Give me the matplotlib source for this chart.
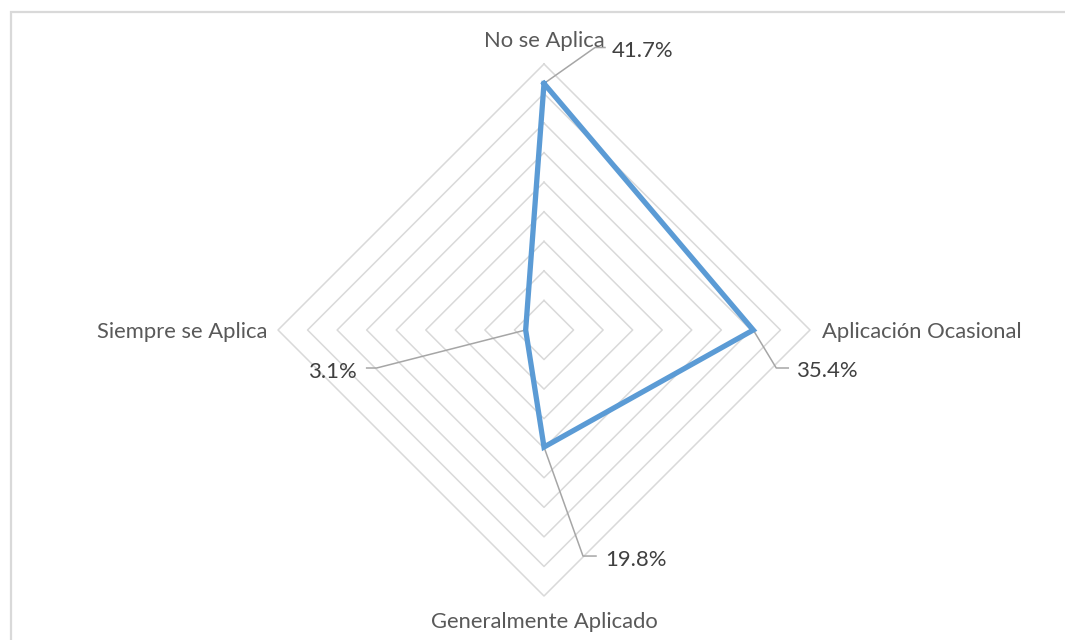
import numpy as np
import matplotlib
matplotlib.use("Agg")
import matplotlib.pyplot as plt
from matplotlib.lines import Line2D

# Survey results, clockwise from the top
categories = ["No se Aplica", "Aplicación Ocasional", "Generalmente Aplicado", "Siempre se Aplica"]
values = [41.7, 35.4, 19.8, 3.1]
value_labels = ["41.7%", "35.4%", "19.8%", "3.1%"]
ring_levels = [5, 10, 15, 20, 25, 30, 35, 40, 45]

W, H, DPI = 1065, 640, 100
CX, CY = 544, 330          # chart centre in pixels (from top-left)
R_PX = 266                 # pixel radius of the outer ring
R_MAX = ring_levels[-1]
S = R_MAX / R_PX           # data units per pixel

plt.rcParams["font.family"] = ["Lato", "DejaVu Sans"]

fig = plt.figure(figsize=(W / DPI, H / DPI), dpi=DPI)
ax = fig.add_axes([0, 0, 1, 1])
ax.set_xlim(-CX * S, (W - CX) * S)
ax.set_ylim(-(H - CY) * S, CY * S)
ax.set_aspect("equal")
ax.axis("off")

n = len(categories)
theta = np.arange(n) * 2 * np.pi / n   # 0 = up, clockwise


def to_xy(r, th):
    return r * np.sin(th), r * np.cos(th)


# chart area border: only the top and left edges fall inside the image
bx, by = 10.5 / W, 1 - 11.5 / H
fig.add_artist(Line2D([bx, bx, 1.01], [-0.01, by, by], transform=fig.transFigure,
                      color="#D9D9D9", lw=1.6, solid_joinstyle="miter"))

# diamond grid rings
grid_c = "#D9D9D9"
for lv in ring_levels:
    xs, ys = to_xy(np.array([lv] * (n + 1)), np.append(theta, theta[0]))
    ax.plot(xs, ys, color=grid_c, lw=1.1, zorder=1)

# data series
vals = np.array(values)
xs, ys = to_xy(np.append(vals, vals[0]), np.append(theta, theta[0]))
ax.plot(xs, ys, color="#5B9BD5", lw=3.8, solid_joinstyle="miter", zorder=3)

# value labels with bent leader lines (offsets in pixels: elbow, end, text)
leader = [
    ((51, 36), (61, 36), (68, 27), "left"),
    ((23, -38), (35, -38), (44, -47), "left"),
    ((39, -109), (52, -109), (61, -119), "left"),
    ((-149, -38), (-159, -38), (-168, -48), "right"),
]
for v, th, lab, (elb, end, txt, ha) in zip(values, theta, value_labels, leader):
    vx, vy = to_xy(v, th)
    ax.plot([vx, vx + elb[0] * S, vx + end[0] * S],
            [vy, vy + elb[1] * S, vy + end[1] * S],
            color="#A6A6A6", lw=1.1, zorder=2)
    ax.text(vx + txt[0] * S, vy + txt[1] * S, lab, ha=ha, va="baseline",
            fontsize=15.9, color="#404040", zorder=4)

# category labels
cat_pos = [
    ((544, 47), "center"),
    ((822, 338), "left"),
    ((544, 628), "center"),
    ((267, 338), "right"),
]
for cat, ((px, py), ha) in zip(categories, cat_pos):
    ax.text((px - CX) * S, (CY - py) * S, cat, ha=ha, va="baseline",
            fontsize=15.8, color="#595959", zorder=4)

fig.savefig("out.png", dpi=DPI, facecolor="white")
